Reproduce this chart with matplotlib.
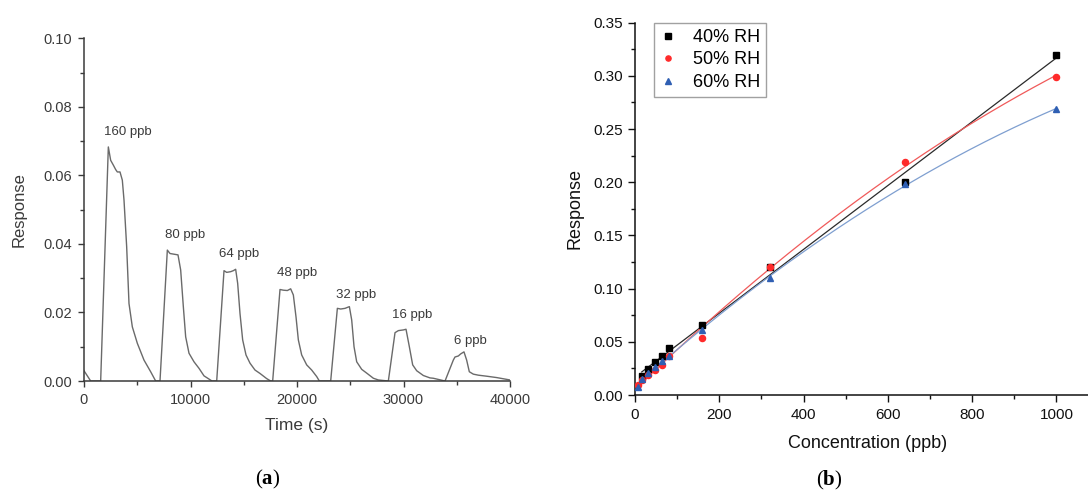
import numpy as np
import matplotlib
matplotlib.use("Agg")
import matplotlib.pyplot as plt
from matplotlib.ticker import MultipleLocator

plt.rcParams['font.family'] = ['Liberation Sans', 'DejaVu Sans']
plt.rcParams['mathtext.fontset'] = 'custom'
plt.rcParams['mathtext.bf'] = 'Liberation Serif:bold'
plt.rcParams['mathtext.rm'] = 'Liberation Serif'

# ---------------- Panel (a): dynamic response trace ----------------
time_s = [0, 626, 1565, 2285, 2504, 2754, 2973, 3130, 3380, 3599, 3756, 4006, 4225,
          4538, 5008, 5634, 6260, 6729, 7136, 7825, 8075, 8451, 8826, 9077, 9327,
          9546, 9859, 10329, 10798, 11268, 11518, 12018, 12460, 13146, 13396, 13772,
          14022, 14241, 14429, 14648, 14898, 15211, 15587, 16056, 16526, 17152, 17528,
          17716, 18404, 18717, 19093, 19406, 19657, 19907, 20126, 20439, 20909, 21378,
          21848, 22098, 23163, 23790, 24103, 24510, 24917, 25136, 25355, 25606, 26075,
          26545, 27171, 27640, 28577, 29203, 29516, 29986, 30236, 30549, 30862, 31238,
          31864, 32490, 32802, 33900, 34677, 34834, 35147, 35366, 35679, 35930, 36180,
          36556, 37026, 37808, 38747, 40000]
response_a = [0.0030, 0.0, 0.0, 0.0683, 0.0644, 0.0630, 0.0617, 0.0610, 0.0610, 0.0586,
              0.0528, 0.0392, 0.0226, 0.0158, 0.0110, 0.0061, 0.0027, 0.0, 0.0, 0.0382,
              0.0372, 0.0370, 0.0368, 0.0324, 0.0217, 0.0129, 0.0081, 0.0056, 0.0037,
              0.0015, 0.0010, 0.0, 0.0, 0.0322, 0.0317, 0.0319, 0.0322, 0.0326, 0.0285,
              0.0197, 0.0120, 0.0076, 0.0052, 0.0032, 0.0022, 0.0007, 0.0, 0.0, 0.0267,
              0.0265, 0.0264, 0.0269, 0.0251, 0.0187, 0.0120, 0.0076, 0.0047, 0.0032,
              0.0013, 0.0, 0.0, 0.0212, 0.0210, 0.0212, 0.0217, 0.0178, 0.0100, 0.0056,
              0.0034, 0.0023, 0.0008, 0.0003, 0.0, 0.0141, 0.0147, 0.0149, 0.0151,
              0.0100, 0.0047, 0.0030, 0.0016, 0.0009, 0.0008, 0.0, 0.0061, 0.0070,
              0.0073, 0.0079, 0.0085, 0.0061, 0.0027, 0.0020, 0.0017, 0.0014, 0.0010,
              0.0003]
pulse_labels = ['160 ppb', '80 ppb', '64 ppb', '48 ppb', '32 ppb', '16 ppb', '6 ppb']
label_t = [4130, 9450, 14585, 19970, 25510, 30830, 36310]
label_r = [0.0726, 0.0426, 0.0370, 0.0314, 0.0252, 0.0192, 0.0117]

# ---------------- Panel (b): response vs concentration ----------------
conc = [6, 16, 32, 48, 64, 80, 160, 320, 640, 1000]
conc_40 = [16, 32, 48, 64, 80, 160, 320, 640, 1000]
resp_40 = [0.018, 0.024, 0.031, 0.037, 0.044, 0.066, 0.120, 0.200, 0.320]
resp_50 = [0.0094, 0.0141, 0.0188, 0.0234, 0.0281, 0.0366, 0.0537, 0.120, 0.219, 0.299]
resp_60 = [0.0072, 0.0147, 0.0209, 0.0266, 0.0319, 0.0366, 0.0610, 0.110, 0.198, 0.269]
series_names = ['40% RH', '50% RH', '60% RH']

W, H = 1088, 494
fig = plt.figure(figsize=(W / 100, H / 100), dpi=100)

def px_axes(x0, y0, x1, y1):
    return fig.add_axes([x0 / W, 1 - y1 / H, (x1 - x0) / W, (y1 - y0) / H])

def style_axes(ax, col):
    for s in ['top', 'right']:
        ax.spines[s].set_visible(False)
    for s in ['left', 'bottom']:
        ax.spines[s].set_linewidth(1.1)
        ax.spines[s].set_color(col)
    ax.tick_params(which='major', direction='out', length=4.5, width=1.0, color=col,
                   labelsize=10.5, labelcolor=col, pad=4)
    ax.tick_params(which='minor', direction='out', length=3, width=1.0, color=col)

# Panel (a)
gray_text = '#3a3a3a'
axa = px_axes(84, 38.3, 510, 381)
axa.plot(time_s, response_a, color='#6a6a6a', lw=1.0)
axa.set_xlim(0, 40000)
axa.set_ylim(0, 0.10)
axa.xaxis.set_major_locator(MultipleLocator(10000))
axa.xaxis.set_minor_locator(MultipleLocator(5000))
axa.yaxis.set_major_locator(MultipleLocator(0.02))
axa.yaxis.set_minor_locator(MultipleLocator(0.01))
axa.yaxis.set_major_formatter(matplotlib.ticker.FormatStrFormatter('%.2f'))
style_axes(axa, gray_text)
axa.set_xlabel('Time (s)', fontsize=12.5, color=gray_text)
axa.set_ylabel('Response', fontsize=12, color=gray_text)
axa.xaxis.set_label_coords(0.5, -0.108)
axa.yaxis.set_label_coords(-0.135, 0.5)
for lab, t, r in zip(pulse_labels, label_t, label_r):
    axa.text(t, r, lab, ha='center', va='center', fontsize=9.5, color=gray_text)

# Panel (b)
black = '#111111'
axb = px_axes(635, 22.7, 1088, 395)
colors_pts = ['#000000', '#ff2a2a', '#2f5fb3']
colors_fit = ['#2a2a2a', '#f05a5a', '#7f9fd0']
markers = ['s', 'o', '^']
xs_list = [conc_40, conc, conc]
ys_list = [resp_40, resp_50, resp_60]
degs = [1, 2, 2]
for name, xs, ys, cp, cf, mk, dg in zip(series_names, xs_list, ys_list, colors_pts,
                                        colors_fit, markers, degs):
    xs = np.asarray(xs, float)
    ys = np.asarray(ys, float)
    coef = np.polyfit(xs, ys, dg)
    xf = np.linspace(xs.min(), xs.max(), 200)
    axb.plot(xf, np.polyval(coef, xf), color=cf, lw=0.9, zorder=2)
for name, xs, ys, cp, mk in zip(series_names, xs_list, ys_list, colors_pts, markers):
    axb.plot(xs, ys, linestyle='none', marker=mk, color=cp, ms=4.4, label=name, zorder=3)

axb.set_xlim(0, 1075)
axb.set_ylim(0, 0.35)
axb.xaxis.set_major_locator(MultipleLocator(200))
axb.xaxis.set_minor_locator(MultipleLocator(100))
axb.yaxis.set_major_locator(MultipleLocator(0.05))
axb.yaxis.set_minor_locator(MultipleLocator(0.025))
axb.yaxis.set_major_formatter(matplotlib.ticker.FormatStrFormatter('%.2f'))
style_axes(axb, black)
axb.tick_params(which='major', length=5, labelsize=11)
axb.set_xlabel('Concentration (ppb)', fontsize=13, color=black)
axb.set_ylabel('Response', fontsize=13, color=black)
axb.xaxis.set_label_coords(0.514, -0.108)
axb.yaxis.set_label_coords(-0.113, 0.5)
leg = axb.legend(loc='upper left', bbox_to_anchor=(0.042, 1.0), borderaxespad=0,
                 fontsize=13, frameon=True, fancybox=False, handlelength=0.8,
                 handletextpad=1.0, borderpad=0.35, labelspacing=0.3, markerscale=0.85)
leg.get_frame().set_edgecolor('#8a8a8a')
leg.get_frame().set_linewidth(1.0)

# Panel captions
fig.text(268 / W, 1 - 479 / H, r'($\mathbf{a}$)', ha='center', va='center', fontsize=15,
         family='Liberation Serif')
fig.text(829 / W, 1 - 480 / H, r'($\mathbf{b}$)', ha='center', va='center', fontsize=15,
         family='Liberation Serif')

fig.savefig('out.png', dpi=100)
